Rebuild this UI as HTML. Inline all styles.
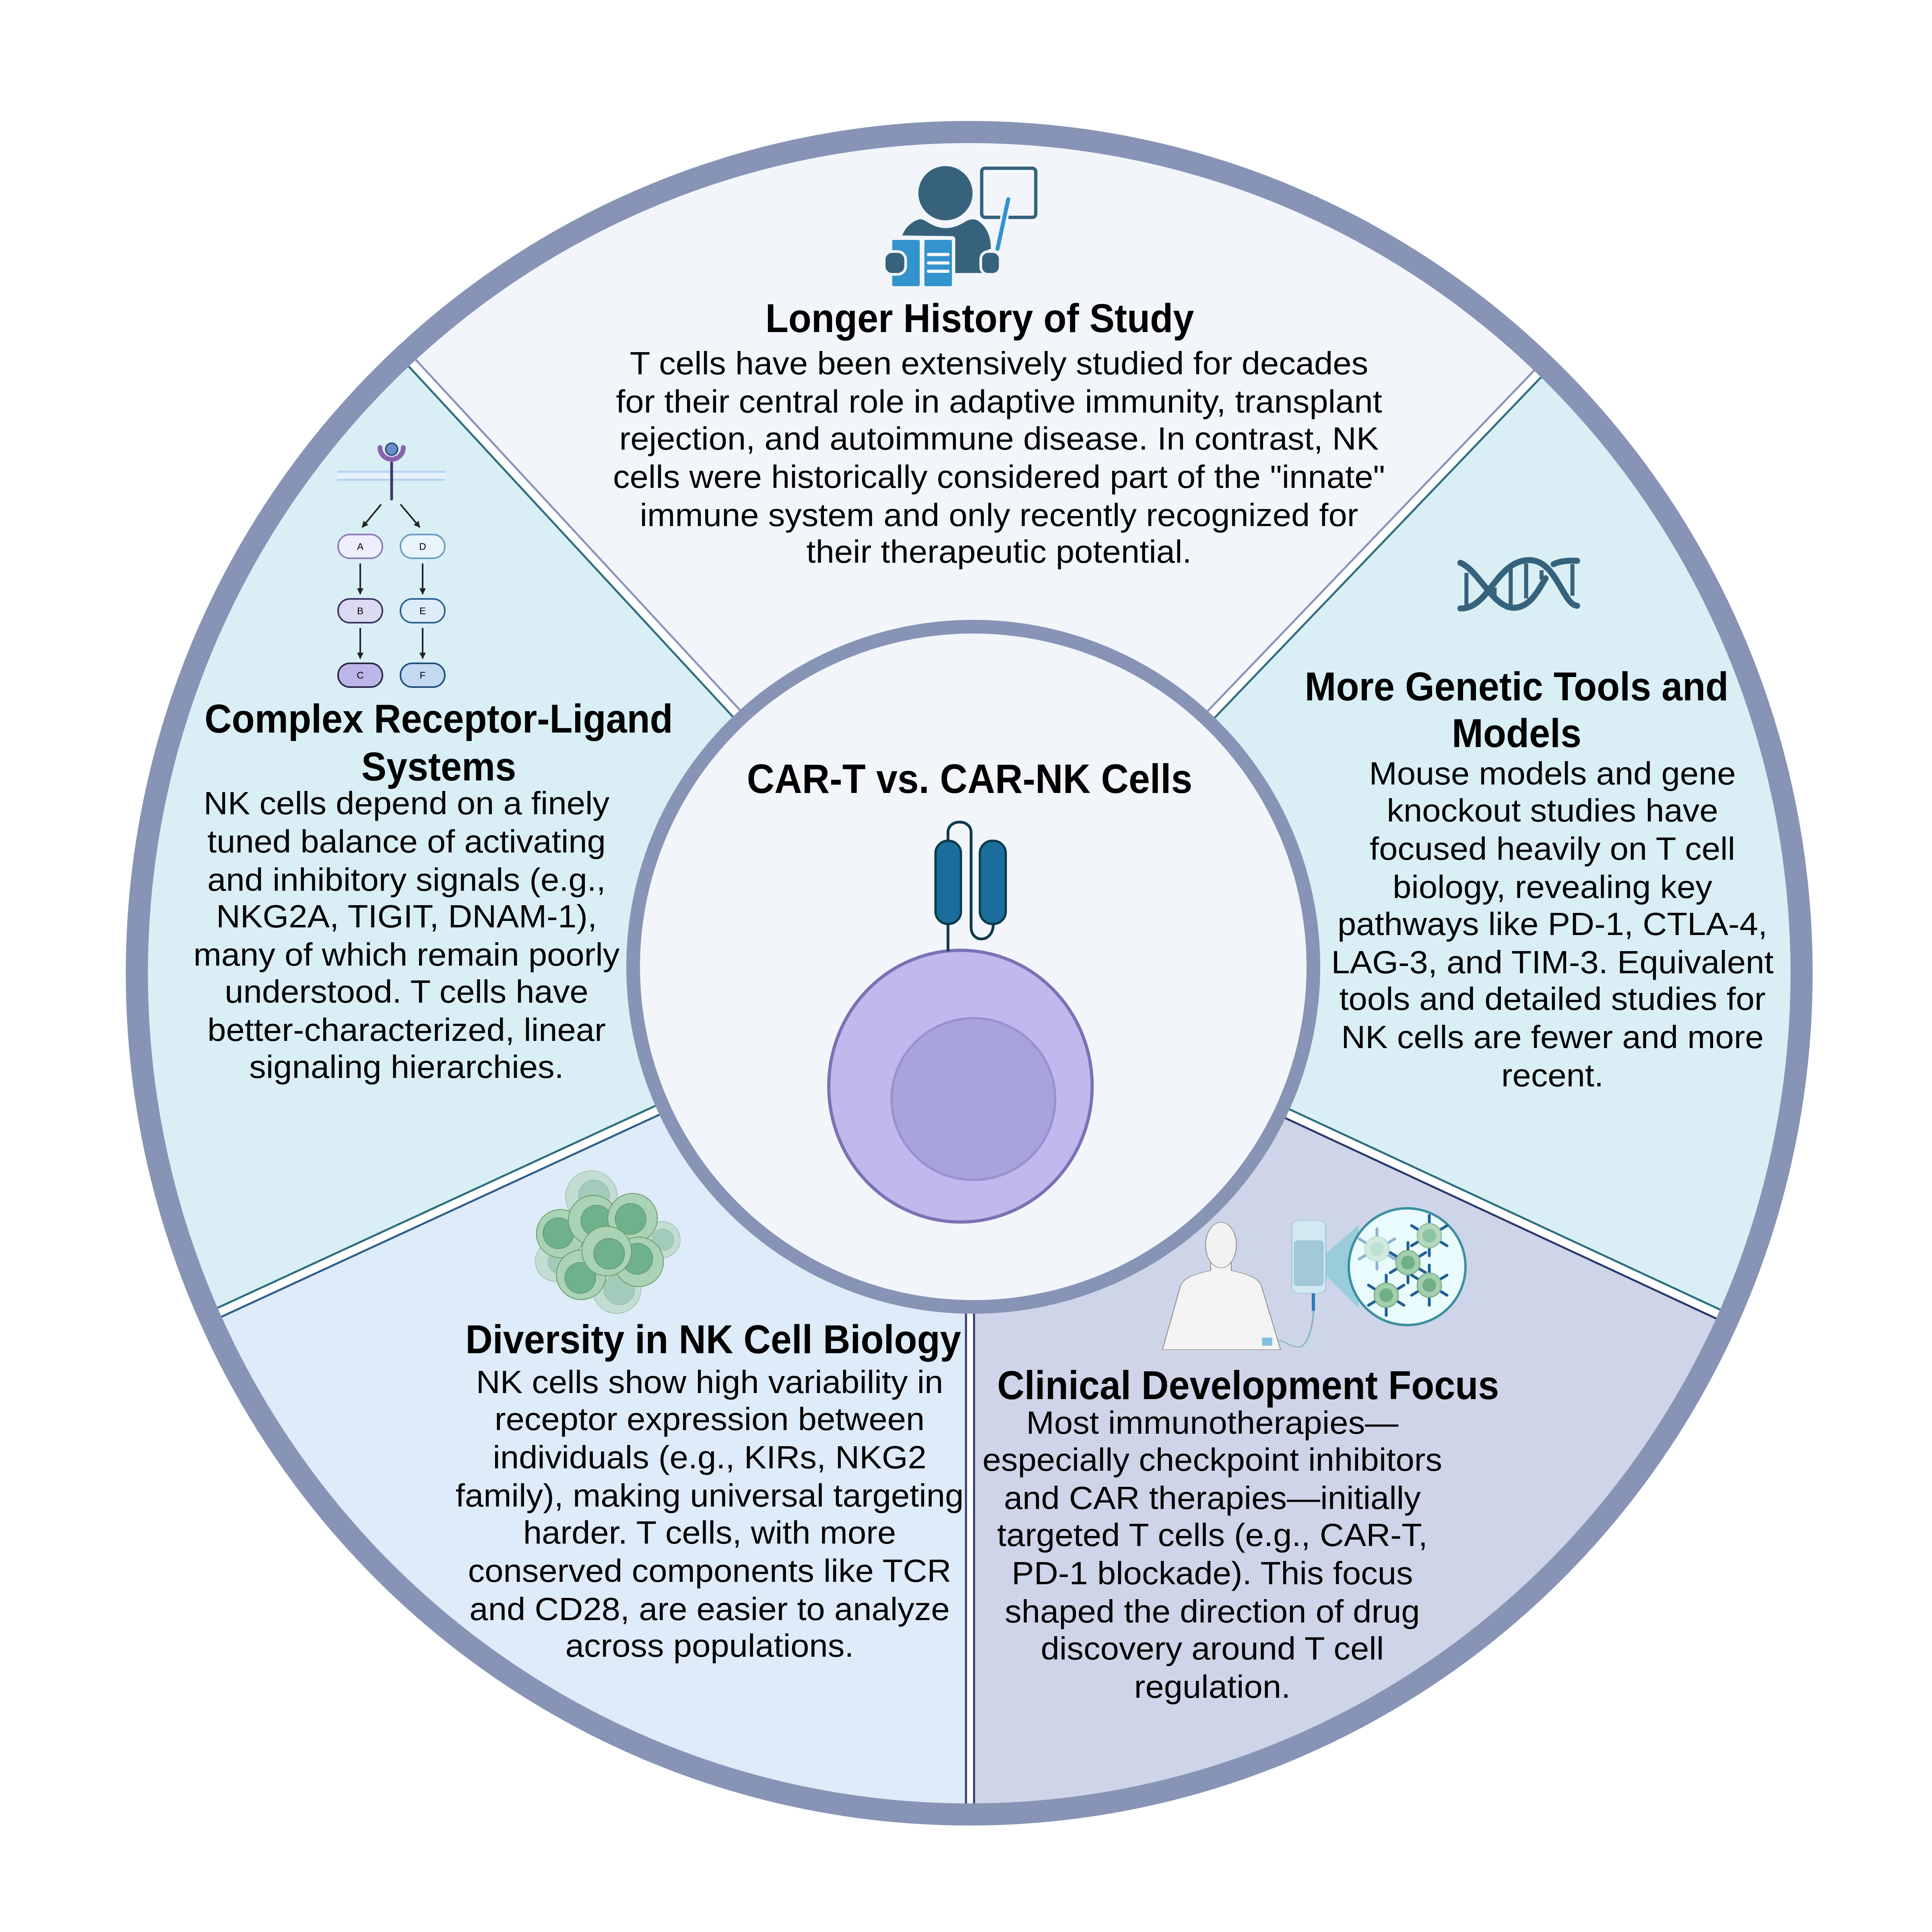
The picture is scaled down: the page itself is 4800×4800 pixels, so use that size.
<!DOCTYPE html>
<html><head><meta charset="utf-8"><style>
html,body{margin:0;padding:0;background:#fff;width:4800px;height:4800px;overflow:hidden;}
svg{display:block;}
text{font-family:"Liberation Sans",Arial,sans-serif;fill:#000;}
.t{font-weight:bold;font-size:100px;text-anchor:middle;}
.b{font-size:80px;text-anchor:middle;}
</style></head><body>
<svg width="4800" height="4800" viewBox="0 0 4800 4800" xmlns="http://www.w3.org/2000/svg">
<defs>
<clipPath id="disk"><ellipse cx="2408" cy="2418" rx="2068" ry="2090"/></clipPath>
<marker id="ah" viewBox="0 0 10 10" refX="9" refY="5" markerWidth="4" markerHeight="4" orient="auto"><path d="M0,0 L10,5 L0,10 Z" fill="#222"/></marker>
</defs>
<rect width="4800" height="4800" fill="#fff"/>
<g clip-path="url(#disk)">
<polygon points="2410,2400 373,198 1000,-600 4000,-600 4486,234" fill="#f2f6fb"/>
<polygon points="2410,2400 373,198 -400,2400 -314,3657" fill="#d9eff5"/>
<polygon points="2410,2400 4486,234 5300,2400 5131,3666" fill="#d9eff5"/>
<polygon points="2410,2400 -314,3657 800,5300 2410,5400" fill="#deebf8"/>
<polygon points="2410,2400 2410,5400 4000,5300 5131,3666" fill="#cfd5e8"/>
<g stroke-linecap="butt">
<line x1="2410" y1="2400" x2="373" y2="198" stroke="#fff" stroke-width="22"/>
<line x1="2419" y1="2392" x2="382" y2="190" stroke="#8a94b8" stroke-width="5"/>
<line x1="2401" y1="2408" x2="364" y2="206" stroke="#2d6e7e" stroke-width="5"/>
<line x1="2410" y1="2400" x2="4486" y2="234" stroke="#fff" stroke-width="22"/>
<line x1="2419" y1="2408" x2="4495" y2="242" stroke="#2d6e7e" stroke-width="5"/>
<line x1="2401" y1="2392" x2="4477" y2="226" stroke="#8a94b8" stroke-width="5"/>
<line x1="2410" y1="2400" x2="-314" y2="3657" stroke="#fff" stroke-width="22"/>
<line x1="2415" y1="2411" x2="-309" y2="3668" stroke="#2d5e8a" stroke-width="5"/>
<line x1="2405" y1="2389" x2="-319" y2="3646" stroke="#2d6e7e" stroke-width="5"/>
<line x1="2410" y1="2400" x2="5131" y2="3666" stroke="#fff" stroke-width="22"/>
<line x1="2405" y1="2411" x2="5126" y2="3677" stroke="#2c3a6b" stroke-width="5"/>
<line x1="2415" y1="2389" x2="5136" y2="3655" stroke="#2d6e7e" stroke-width="5"/>
<line x1="2410" y1="2400" x2="2410" y2="5400" stroke="#fff" stroke-width="22"/>
<line x1="2400" y1="2400" x2="2400" y2="5400" stroke="#2c3a6b" stroke-width="5"/>
<line x1="2420" y1="2400" x2="2420" y2="5400" stroke="#2c3a6b" stroke-width="5"/>
</g>
</g>
<ellipse cx="2408" cy="2418" rx="2068" ry="2090" fill="none" stroke="#8794b6" stroke-width="55"/>
<circle cx="2418" cy="2402" r="845" fill="#f2f6fb" stroke="#8794b6" stroke-width="34"/>

<!-- teacher icon -->
<g transform="translate(2150,380) scale(0.3333)">
<circle cx="597" cy="300" r="202" fill="#36627c"/>
<path d="M275,615 C300,550 350,510 400,495 C430,490 450,510 470,520 C520,550 560,560 600,560 C650,560 700,540 740,515 C770,495 800,490 830,500 C900,540 935,620 935,700 L935,715 C880,730 850,770 850,820 C850,850 860,875 870,895 L670,895 L670,640 C670,625 655,620 640,620 Z" fill="#36627c"/>
<rect x="867" y="114" width="403" height="366" rx="25" fill="none" stroke="#36627c" stroke-width="25"/>
<line x1="1065" y1="345" x2="985" y2="715" stroke="#f2f6fb" stroke-width="60" stroke-linecap="round"/>
<line x1="1065" y1="345" x2="985" y2="715" stroke="#3393cc" stroke-width="30" stroke-linecap="round"/>
<rect x="200" y="648" width="205" height="345" rx="10" fill="#3393cc"/>
<rect x="440" y="648" width="205" height="345" rx="10" fill="#3393cc"/>
<rect x="458" y="745" width="170" height="24" rx="12" fill="#f2f6fb"/>
<rect x="458" y="808" width="170" height="24" rx="12" fill="#f2f6fb"/>
<rect x="458" y="870" width="170" height="24" rx="12" fill="#f2f6fb"/>
<rect x="140" y="735" width="160" height="170" rx="60" fill="#36627c" stroke="#f2f6fb" stroke-width="20"/>
<rect x="860" y="735" width="145" height="170" rx="55" fill="#36627c" stroke="#f2f6fb" stroke-width="20"/>
</g>

<!-- DNA icon -->
<g transform="translate(3600,1360) scale(0.3333)" fill="none" stroke="#36627c" stroke-width="45" stroke-linecap="round">
<path d="M85,115 C220,170 330,450 480,450 C600,450 660,330 720,230"/>
<path d="M85,455 C300,460 350,95 600,95 C800,95 850,430 955,435"/>
<path d="M955,100 C860,95 810,110 780,125"/>
<g stroke-width="30" stroke-linecap="butt">
<line x1="130" y1="190" x2="130" y2="435"/><line x1="460" y1="150" x2="460" y2="430"/>
<line x1="575" y1="120" x2="575" y2="380"/><line x1="920" y1="125" x2="920" y2="360"/>
<line x1="340" y1="300" x2="340" y2="390"/><line x1="690" y1="170" x2="690" y2="240"/>
</g>
</g>

<!-- pathway icon -->
<g>
<rect x="838" y="1171" width="268" height="22" fill="#e6f1fb"/>
<line x1="838" y1="1172" x2="1106" y2="1172" stroke="#b8d3f0" stroke-width="5"/>
<line x1="838" y1="1192" x2="1106" y2="1192" stroke="#b8d3f0" stroke-width="5"/>
<line x1="973" y1="1150" x2="973" y2="1240" stroke="#3f3a6a" stroke-width="7" stroke-linecap="round"/>
<path d="M944,1112 A29,29 0 0 0 1002,1112" fill="none" stroke="#8b62ad" stroke-width="12" stroke-linecap="round"/>
<circle cx="973" cy="1116" r="15" fill="#6a8cc8" stroke="#223a66" stroke-width="3"/>
<g stroke="#222" stroke-width="4" marker-end="url(#ah)">
<line x1="947" y1="1253" x2="900" y2="1310"/>
<line x1="995" y1="1253" x2="1043" y2="1310"/>
<line x1="895" y1="1400" x2="895" y2="1476"/>
<line x1="1050" y1="1400" x2="1050" y2="1476"/>
<line x1="895" y1="1560" x2="895" y2="1636"/>
<line x1="1050" y1="1560" x2="1050" y2="1636"/>
</g>
<rect x="840" y="1328" width="110" height="59" rx="29" fill="#eeeefc" stroke="#8d7fb8" stroke-width="4"/>
<rect x="995" y="1328" width="110" height="59" rx="29" fill="#eaf4fd" stroke="#6b9fbd" stroke-width="4"/>
<rect x="840" y="1488" width="110" height="59" rx="29" fill="#dcd9f2" stroke="#3b3560" stroke-width="4"/>
<rect x="995" y="1488" width="110" height="59" rx="29" fill="#deecfa" stroke="#2d6390" stroke-width="4"/>
<rect x="840" y="1648" width="110" height="59" rx="29" fill="#bdb6e8" stroke="#2d2748" stroke-width="4"/>
<rect x="995" y="1648" width="110" height="59" rx="29" fill="#c3d9f2" stroke="#1f4f7a" stroke-width="4"/>
<g font-size="24" text-anchor="middle">
<text x="895" y="1366">A</text><text x="1050" y="1366">D</text>
<text x="895" y="1526">B</text><text x="1050" y="1526">E</text>
<text x="895" y="1686">C</text><text x="1050" y="1686">F</text>
</g>
</g>

<!-- cell cluster -->
<g transform="translate(1300,2880) scale(0.3333)">
<g fill="#c3ddd3" stroke="#9dbfa9" stroke-width="5">
<circle cx="508" cy="280" r="193"/><circle cx="1035" cy="600" r="135"/><circle cx="240" cy="760" r="150"/><circle cx="697" cy="970" r="180"/>
</g>
<g fill="#a2cbbb" stroke="#8fbca6" stroke-width="4">
<circle cx="527" cy="270" r="115"/><circle cx="1040" cy="600" r="80"/><circle cx="270" cy="770" r="85"/><circle cx="715" cy="970" r="115"/>
</g>
<g stroke="#6a9a64" stroke-width="6">
<circle cx="278" cy="555" r="180" fill="#aad2b6"/><circle cx="262" cy="552" r="115" fill="#6fb18a" stroke="#4f8d68" stroke-width="4"/>
<circle cx="522" cy="455" r="185" fill="#aad2b6"/><circle cx="545" cy="458" r="115" fill="#6fb18a" stroke="#4f8d68" stroke-width="4"/>
<circle cx="815" cy="440" r="185" fill="#aad2b6"/><circle cx="800" cy="445" r="115" fill="#6fb18a" stroke="#4f8d68" stroke-width="4"/>
<circle cx="860" cy="765" r="185" fill="#aad2b6"/><circle cx="850" cy="742" r="115" fill="#6fb18a" stroke="#4f8d68" stroke-width="4"/>
<circle cx="432" cy="862" r="185" fill="#aad2b6"/><circle cx="425" cy="885" r="115" fill="#6fb18a" stroke="#4f8d68" stroke-width="4"/>
<circle cx="622" cy="685" r="185" fill="#aad2b6"/><circle cx="640" cy="705" r="115" fill="#6fb18a" stroke="#4f8d68" stroke-width="4"/>
</g>
</g>

<!-- clinical icon -->
<g transform="translate(2860,2960) scale(0.5102,0.3333)">
<path d="M845,470 L1010,250 L1010,870 L845,620 Z" fill="#8ccbd8" opacity="0.8"/>
<path d="M290,520 L290,590 C200,620 150,650 140,720 L55,1180 L630,1180 L540,720 C530,650 480,620 390,590 L390,520 Z" fill="#f4f4f4" stroke="#8a8a8a" stroke-width="4"/>
<ellipse cx="340" cy="400" rx="75" ry="170" fill="#f2f2f2" stroke="#8a8a8a" stroke-width="4"/>
<rect x="685" y="215" width="165" height="545" rx="40" fill="#d3e9f1" stroke="#9cc7dd" stroke-width="5"/>
<rect x="695" y="365" width="145" height="340" rx="20" fill="#a3c8d6"/>
<rect x="782" y="760" width="16" height="130" fill="#2a7bb5"/>
<path d="M790,890 C790,1000 760,1160 720,1160 C680,1160 660,1120 620,1110" fill="none" stroke="#8ab7c4" stroke-width="8"/>
<rect x="540" y="1090" width="50" height="60" fill="#7fc2dc"/>
</g>
<circle cx="3496" cy="3147" r="145" fill="#eafbfe" stroke="#3c8fa0" stroke-width="6"/>
<g stroke="#1f5f95" stroke-width="7" stroke-linecap="round">
<g transform="translate(3551,3070)"><line x1="0" y1="-28" x2="0" y2="-50"/><line x1="0" y1="28" x2="0" y2="50"/><line x1="26" y1="-14" x2="44" y2="-25"/><line x1="-26" y1="-14" x2="-44" y2="-25"/><line x1="26" y1="14" x2="44" y2="25"/><line x1="-26" y1="14" x2="-44" y2="25"/><circle r="30" fill="#b5d8bf" stroke="#8fc09b" stroke-width="3"/><circle r="17" fill="#8cc3a0" stroke="none"/></g>
<g transform="translate(3498,3137)"><line x1="0" y1="-28" x2="0" y2="-50"/><line x1="0" y1="28" x2="0" y2="50"/><line x1="26" y1="-14" x2="44" y2="-25"/><line x1="-26" y1="-14" x2="-44" y2="-25"/><line x1="26" y1="14" x2="44" y2="25"/><line x1="-26" y1="14" x2="-44" y2="25"/><circle r="30" fill="#a4cfae" stroke="#7fb28c" stroke-width="3"/><circle r="17" fill="#6fae86" stroke="none"/></g>
<g transform="translate(3551,3193)"><line x1="0" y1="-28" x2="0" y2="-50"/><line x1="0" y1="28" x2="0" y2="50"/><line x1="26" y1="-14" x2="44" y2="-25"/><line x1="-26" y1="-14" x2="-44" y2="-25"/><line x1="26" y1="14" x2="44" y2="25"/><line x1="-26" y1="14" x2="-44" y2="25"/><circle r="30" fill="#a4cfae" stroke="#7fb28c" stroke-width="3"/><circle r="17" fill="#6fae86" stroke="none"/></g>
<g transform="translate(3444,3218)"><line x1="0" y1="-28" x2="0" y2="-50"/><line x1="0" y1="28" x2="0" y2="50"/><line x1="26" y1="-14" x2="44" y2="-25"/><line x1="-26" y1="-14" x2="-44" y2="-25"/><line x1="26" y1="14" x2="44" y2="25"/><line x1="-26" y1="14" x2="-44" y2="25"/><circle r="30" fill="#a4cfae" stroke="#7fb28c" stroke-width="3"/><circle r="17" fill="#6fae86" stroke="none"/></g>
<g transform="translate(3421,3103)" opacity="0.45"><line x1="0" y1="-28" x2="0" y2="-50"/><line x1="0" y1="28" x2="0" y2="50"/><line x1="26" y1="-14" x2="44" y2="-25"/><line x1="-26" y1="-14" x2="-44" y2="-25"/><line x1="26" y1="14" x2="44" y2="25"/><line x1="-26" y1="14" x2="-44" y2="25"/><circle r="30" fill="#b5d8bf" stroke="#8fc09b" stroke-width="3"/><circle r="17" fill="#8cc3a0" stroke="none"/></g>
</g>

<!-- center cell -->
<g transform="translate(1500,1500) scale(1.148)">
<ellipse cx="772" cy="1044" rx="285" ry="294" fill="#c1b8ee" stroke="#7b72b5" stroke-width="7"/>
<ellipse cx="800" cy="1072" rx="177" ry="175" fill="#a9a3dc" stroke="#9a90d0" stroke-width="5"/>
<line x1="745" y1="690" x2="745" y2="752" stroke="#0d3a4d" stroke-width="6"/>
<path d="M745,513 L745,495 C745,465 795,465 795,495 L795,700 C795,735 843,735 843,693" fill="none" stroke="#0d3a4d" stroke-width="6"/>
<rect x="718" y="513" width="55" height="180" rx="27" fill="#1b6e9b" stroke="#0d3a4d" stroke-width="5"/>
<rect x="814" y="513" width="56" height="180" rx="27" fill="#1b6e9b" stroke="#0d3a4d" stroke-width="5"/>
</g>

<!-- texts -->
<g transform="translate(2409,0) scale(0.93,1)"><text class="t" x="0" y="1970" style="font-size:102px">CAR-T vs. CAR-NK Cells</text></g>

<g transform="translate(2434,0) scale(0.935,1)"><text class="t" x="0" y="825">Longer History of Study</text></g>
<g transform="translate(2482,0) scale(1.04,1)">
<text class="b" x="0" y="930">T cells have been extensively studied for decades</text>
<text class="b" x="0" y="1025">for their central role in adaptive immunity, transplant</text>
<text class="b" x="0" y="1117">rejection, and autoimmune disease. In contrast, NK</text>
<text class="b" x="0" y="1212">cells were historically considered part of the "innate"</text>
<text class="b" x="0" y="1307">immune system and only recently recognized for</text>
<text class="b" x="0" y="1398">their therapeutic potential.</text>
</g>

<g transform="translate(1090,0) scale(0.935,1)">
<text class="t" x="0" y="1820">Complex Receptor-Ligand</text>
<text class="t" x="0" y="1939">Systems</text>
</g>
<g transform="translate(1010,0) scale(1.04,1)">
<text class="b" x="0" y="2023">NK cells depend on a finely</text>
<text class="b" x="0" y="2118">tuned balance of activating</text>
<text class="b" x="0" y="2213">and inhibitory signals (e.g.,</text>
<text class="b" x="0" y="2304">NKG2A, TIGIT, DNAM-1),</text>
<text class="b" x="0" y="2399">many of which remain poorly</text>
<text class="b" x="0" y="2491">understood. T cells have</text>
<text class="b" x="0" y="2586">better-characterized, linear</text>
<text class="b" x="0" y="2678">signaling hierarchies.</text>
</g>

<g transform="translate(3768,0) scale(0.935,1)">
<text class="t" x="0" y="1740">More Genetic Tools and</text>
<text class="t" x="0" y="1856">Models</text>
</g>
<g transform="translate(3857,0) scale(1.04,1)">
<text class="b" x="0" y="1949">Mouse models and gene</text>
<text class="b" x="0" y="2041">knockout studies have</text>
<text class="b" x="0" y="2136">focused heavily on T cell</text>
<text class="b" x="0" y="2231">biology, revealing key</text>
<text class="b" x="0" y="2323">pathways like PD-1, CTLA-4,</text>
<text class="b" x="0" y="2418">LAG-3, and TIM-3. Equivalent</text>
<text class="b" x="0" y="2509">tools and detailed studies for</text>
<text class="b" x="0" y="2604">NK cells are fewer and more</text>
<text class="b" x="0" y="2699">recent.</text>
</g>

<g transform="translate(1772,0) scale(0.935,1)"><text class="t" x="0" y="3362">Diversity in NK Cell Biology</text></g>
<g transform="translate(1763,0) scale(1.04,1)">
<text class="b" x="0" y="3461">NK cells show high variability in</text>
<text class="b" x="0" y="3553">receptor expression between</text>
<text class="b" x="0" y="3648">individuals (e.g., KIRs, NKG2</text>
<text class="b" x="0" y="3743">family), making universal targeting</text>
<text class="b" x="0" y="3835">harder. T cells, with more</text>
<text class="b" x="0" y="3930">conserved components like TCR</text>
<text class="b" x="0" y="4025">and CD28, are easier to analyze</text>
<text class="b" x="0" y="4116">across populations.</text>
</g>

<g transform="translate(3101,0) scale(0.935,1)"><text class="t" x="0" y="3476">Clinical Development Focus</text></g>
<g transform="translate(3012,0) scale(1.04,1)">
<text class="b" x="0" y="3562">Most immunotherapies—</text>
<text class="b" x="0" y="3654">especially checkpoint inhibitors</text>
<text class="b" x="0" y="3749">and CAR therapies—initially</text>
<text class="b" x="0" y="3841">targeted T cells (e.g., CAR-T,</text>
<text class="b" x="0" y="3936">PD-1 blockade). This focus</text>
<text class="b" x="0" y="4031">shaped the direction of drug</text>
<text class="b" x="0" y="4123">discovery around T cell</text>
<text class="b" x="0" y="4218">regulation.</text>
</g>
</svg>
</body></html>
